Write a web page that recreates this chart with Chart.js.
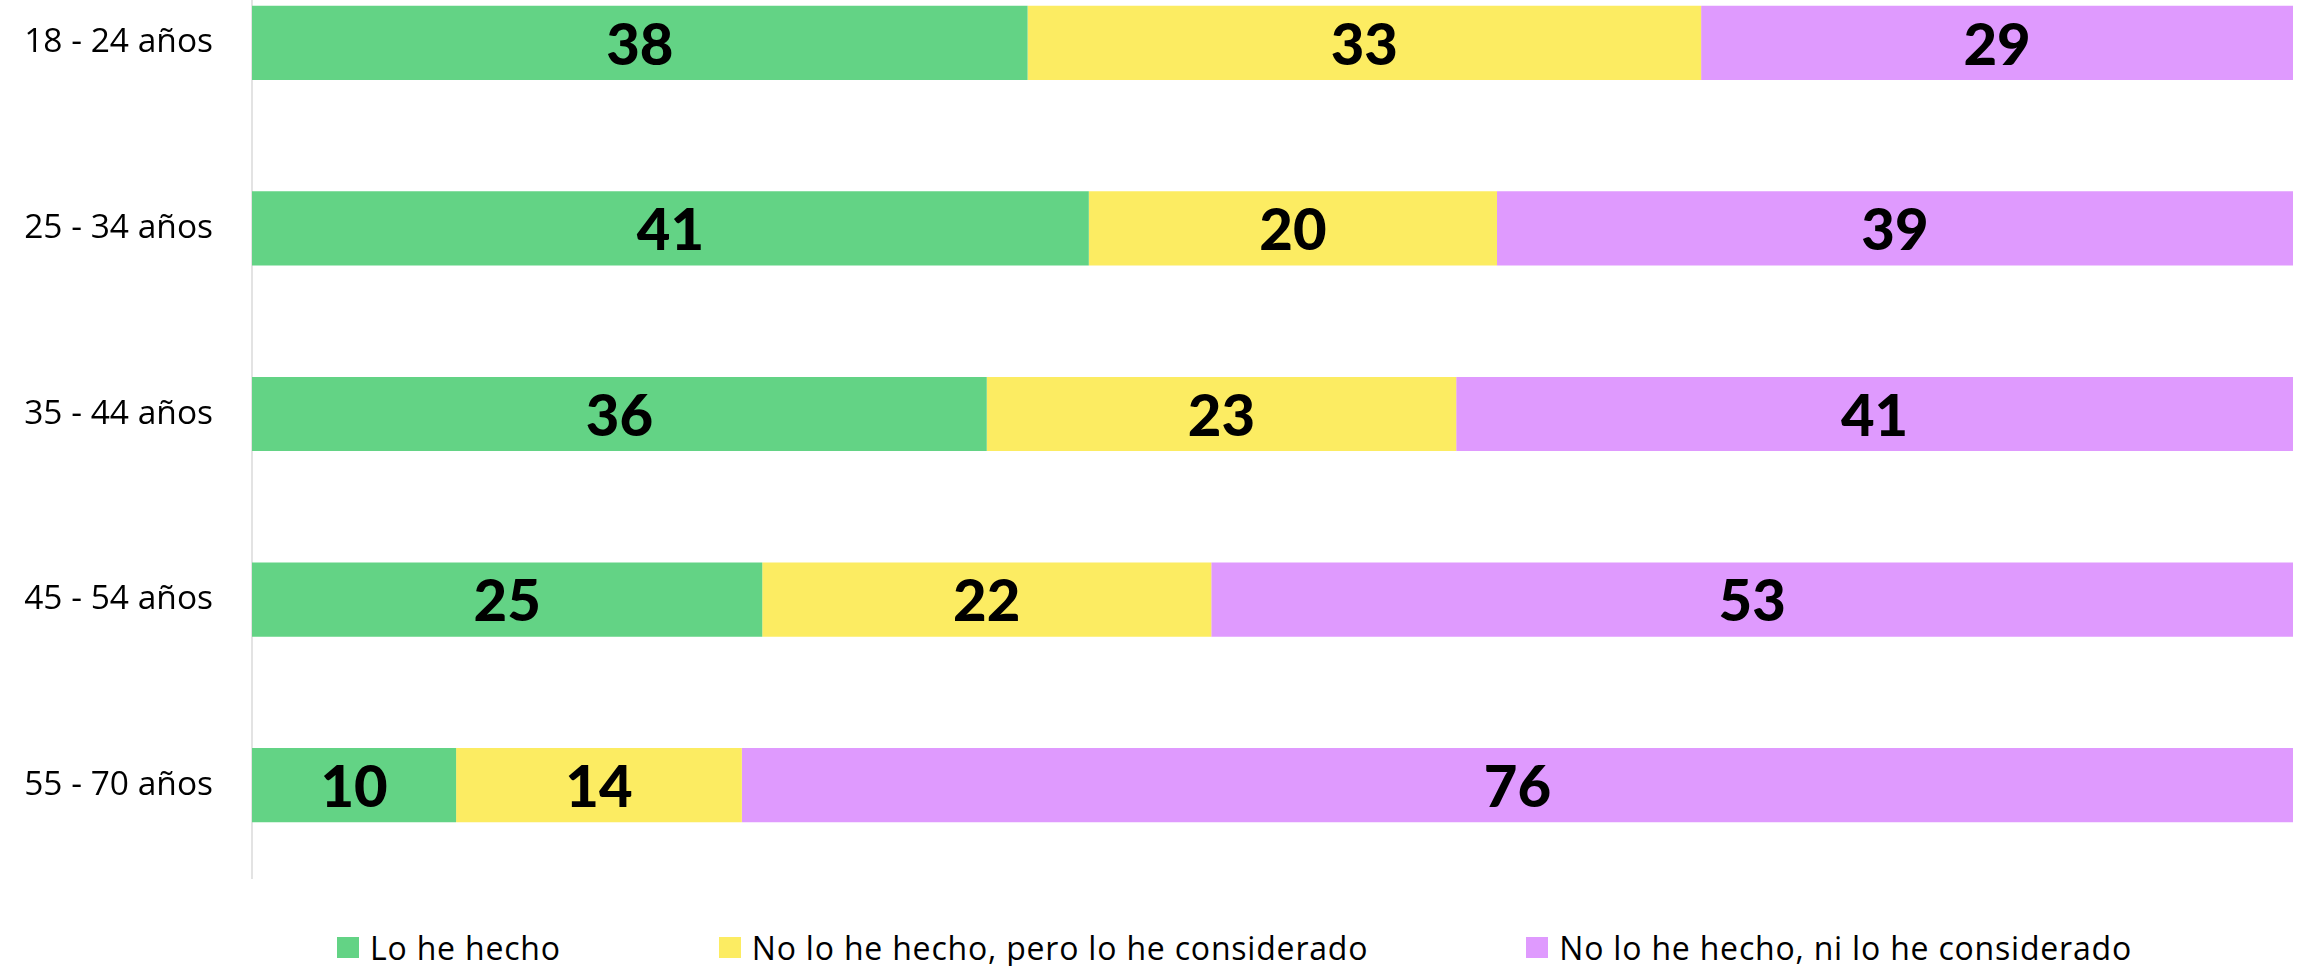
<!DOCTYPE html>
<html lang="es">
<head>
<meta charset="utf-8">
<title>Experiencia por edad</title>
<script src="https://cdn.jsdelivr.net/npm/chart.js@4/dist/chart.umd.min.js"></script>
<style>
  html, body { margin: 0; padding: 0; background: #fff; overflow: hidden; }
  body { width: 2303px; height: 966px; position: relative; }
  #wrap { position: absolute; left: 0; top: -50px; width: 2303px; height: 930px; }
  #legend {
    position: absolute; left: 337px; top: 927px; height: 40px;
    display: flex; align-items: center; gap: 158px;
    font-family: "Open Sans", sans-serif; font-size: 32px; letter-spacing: 0.8px; color: #000;
  }
  .item { display: flex; align-items: center; white-space: nowrap; }
  .box { width: 22px; height: 21px; margin-right: 11px; flex: none; }
</style>
</head>
<body>
<div id="wrap"><canvas id="chart"></canvas></div>
<div id="legend"></div>
<script>
// Age groups and percentage answers per group
const categories = ['18 - 24 años', '25 - 34 años', '35 - 44 años', '45 - 54 años', '55 - 70 años'];
const seriesNames = ['Lo he hecho', 'No lo he hecho, pero lo he considerado', 'No lo he hecho, ni lo he considerado'];
const loHeHecho = [38, 41, 36, 25, 10];
const peroConsiderado = [33, 20, 23, 22, 14];
const niConsiderado = [29, 39, 41, 53, 76];
const seriesColors = ['#63D385', '#FCEC62', '#DF9AFE'];

// Writes each segment's value in the middle of its bar
const valueLabels = {
  id: 'valueLabels',
  afterDatasetsDraw(chart) {
    const ctx = chart.ctx;
    ctx.save();
    ctx.font = '900 58px Lato, sans-serif';
    ctx.fillStyle = '#000';
    ctx.textAlign = 'center';
    ctx.textBaseline = 'middle';
    chart.data.datasets.forEach((ds, i) => {
      chart.getDatasetMeta(i).data.forEach((bar, j) => {
        const p = bar.getProps(['x', 'y', 'base'], true);
        ctx.fillText(String(ds.data[j]), (p.x + p.base) / 2, p.y + 3);
      });
    });
    ctx.restore();
  }
};

function build() {
  const values = [loHeHecho, peroConsiderado, niConsiderado];
  const chart = new Chart(document.getElementById('chart'), {
    type: 'bar',
    data: {
      labels: categories,
      datasets: seriesNames.map((name, i) => ({
        label: name,
        data: values[i],
        backgroundColor: seriesColors[i],
        borderWidth: 0,
        categoryPercentage: 1,
        barPercentage: 0.4
      }))
    },
    options: {
      indexAxis: 'y',
      responsive: true,
      maintainAspectRatio: false,
      animation: false,
      layout: { padding: { left: 0, right: 10, top: 0, bottom: 2 } },
      plugins: { legend: { display: false }, tooltip: { enabled: false } },
      scales: {
        x: { stacked: true, min: 0, max: 100, display: false },
        y: {
          stacked: true,
          grid: { display: false, drawTicks: false },
          border: { display: true, color: '#e3e3e3', width: 2 },
          ticks: {
            padding: 39,
            color: '#000',
            font: { family: '"Open Sans", sans-serif', size: 33.5 }
          },
          afterFit(scale) {
            // fixed label column; bars fill the full height of the plot
            scale.width = 252;
            scale.paddingTop = 0;
            scale.paddingBottom = 0;
          }
        }
      }
    },
    plugins: [valueLabels]
  });

  // Legend entries built from the chart's datasets
  const legend = document.getElementById('legend');
  chart.data.datasets.forEach(ds => {
    const item = document.createElement('div');
    item.className = 'item';
    const box = document.createElement('span');
    box.className = 'box';
    box.style.background = ds.backgroundColor;
    const text = document.createElement('span');
    text.textContent = ds.label;
    item.appendChild(box);
    item.appendChild(text);
    legend.appendChild(item);
  });
}

Promise.all([
  document.fonts.load('900 58px Lato'),
  document.fonts.load('32px "Open Sans"')
]).then(build, build);
</script>
</body>
</html>
